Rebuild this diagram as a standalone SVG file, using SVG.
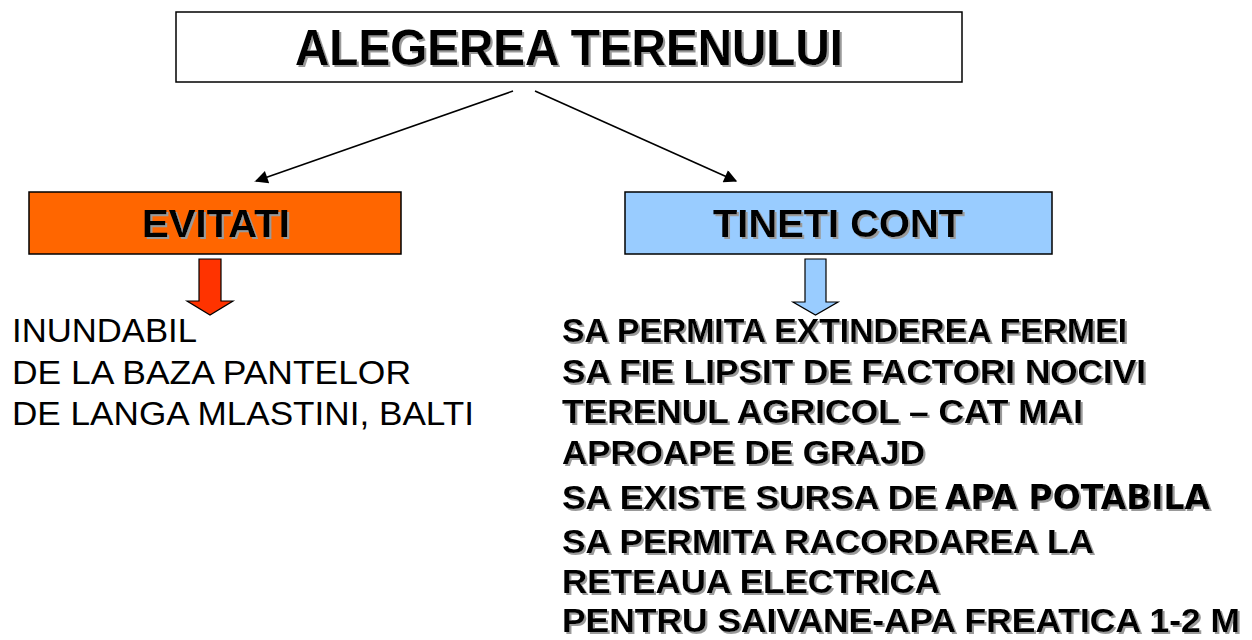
<svg xmlns="http://www.w3.org/2000/svg" width="1252" height="640" viewBox="0 0 1252 640">
<style>
.box{stroke:#000;stroke-width:1.5}
.hd{font-family:"Liberation Sans",Arial,sans-serif;font-weight:bold;fill:#000;filter:url(#sh)}
.lst{font-family:"Liberation Sans",Arial,sans-serif;font-weight:bold;font-size:33px;fill:#000;filter:url(#sh)}
.plain{font-family:"Liberation Sans",Arial,sans-serif;font-size:34px;fill:#000}
.comic{font-family:"DejaVu Sans",sans-serif;font-weight:bold}
.conn{stroke:#000;stroke-width:1.6;fill:none;marker-end:url(#ah)}
.blk{stroke:#000;stroke-width:1.2}
</style>
<defs>
<filter id="sh" x="-5%" y="-20%" width="115%" height="150%">
<feDropShadow dx="2" dy="2" stdDeviation="0.3" flood-color="#9a9a9a" flood-opacity="1"/>
</filter>
<marker id="ah" viewBox="0 0 10 10" refX="9" refY="5" markerWidth="18" markerHeight="13" markerUnits="userSpaceOnUse" orient="auto">
<path d="M0,0 L10,5 L0,10 z" fill="#000"/>
</marker>
</defs>
<rect width="1252" height="640" fill="#fff"/>
<g id="title">
<rect class="box" x="176" y="12" width="786" height="70" fill="#fff"/>
<text class="hd" x="569" y="65" font-size="50" text-anchor="middle" textLength="548" lengthAdjust="spacingAndGlyphs">ALEGEREA TERENULUI</text>
</g>
<g id="connectors">
<line class="conn" x1="513" y1="91" x2="256" y2="181"/>
<line class="conn" x1="535" y1="91" x2="736" y2="181"/>
<path class="blk" fill="#FF3300" d="M199,259 H221 V301 H233 L210,315 L187,301 H199 Z"/>
<path class="blk" fill="#99CCFF" d="M805,259 H826 V302 H838 L815.5,315 L793,302 H805 Z"/>
</g>
<g id="evitati">
<rect class="box" x="29" y="192" width="372" height="62" fill="#FF6600"/>
<text class="hd" x="216" y="237" font-size="38" text-anchor="middle" textLength="148" lengthAdjust="spacingAndGlyphs">EVITATI</text>
</g>
<g id="tineti">
<rect class="box" x="625" y="192" width="427" height="62" fill="#99CCFF"/>
<text class="hd" x="838" y="237" font-size="38" text-anchor="middle" textLength="250" lengthAdjust="spacingAndGlyphs">TINETI CONT</text>
</g>
<g id="evitati-list">
<text class="plain" x="12" y="342" textLength="185" lengthAdjust="spacingAndGlyphs">INUNDABIL</text>
<text class="plain" x="12" y="384" textLength="399" lengthAdjust="spacingAndGlyphs">DE LA BAZA PANTELOR</text>
<text class="plain" x="12" y="425" textLength="462" lengthAdjust="spacingAndGlyphs">DE LANGA MLASTINI, BALTI</text>
</g>
<g id="tineti-list">
<text class="lst" x="562" y="342" textLength="565" lengthAdjust="spacingAndGlyphs">SA PERMITA EXTINDEREA FERMEI</text>
<text class="lst" x="562" y="383" textLength="584" lengthAdjust="spacingAndGlyphs">SA FIE LIPSIT DE FACTORI NOCIVI</text>
<text class="lst" x="562" y="423" textLength="521" lengthAdjust="spacingAndGlyphs">TERENUL AGRICOL – CAT MAI</text>
<text class="lst" x="562" y="464" textLength="363" lengthAdjust="spacingAndGlyphs">APROAPE DE GRAJD</text>
<text class="lst" x="562" y="509"><tspan textLength="375" lengthAdjust="spacingAndGlyphs">SA EXISTE SURSA DE</tspan><tspan class="comic" x="945" textLength="265" lengthAdjust="spacingAndGlyphs">APA POTABILA</tspan></text>
<text class="lst" x="562" y="553" textLength="532" lengthAdjust="spacingAndGlyphs">SA PERMITA RACORDAREA LA</text>
<text class="lst" x="562" y="593" textLength="378" lengthAdjust="spacingAndGlyphs">RETEAUA ELECTRICA</text>
<text class="lst" x="562" y="632" textLength="678" lengthAdjust="spacingAndGlyphs">PENTRU SAIVANE-APA FREATICA 1-2 M</text>
</g>
</svg>
